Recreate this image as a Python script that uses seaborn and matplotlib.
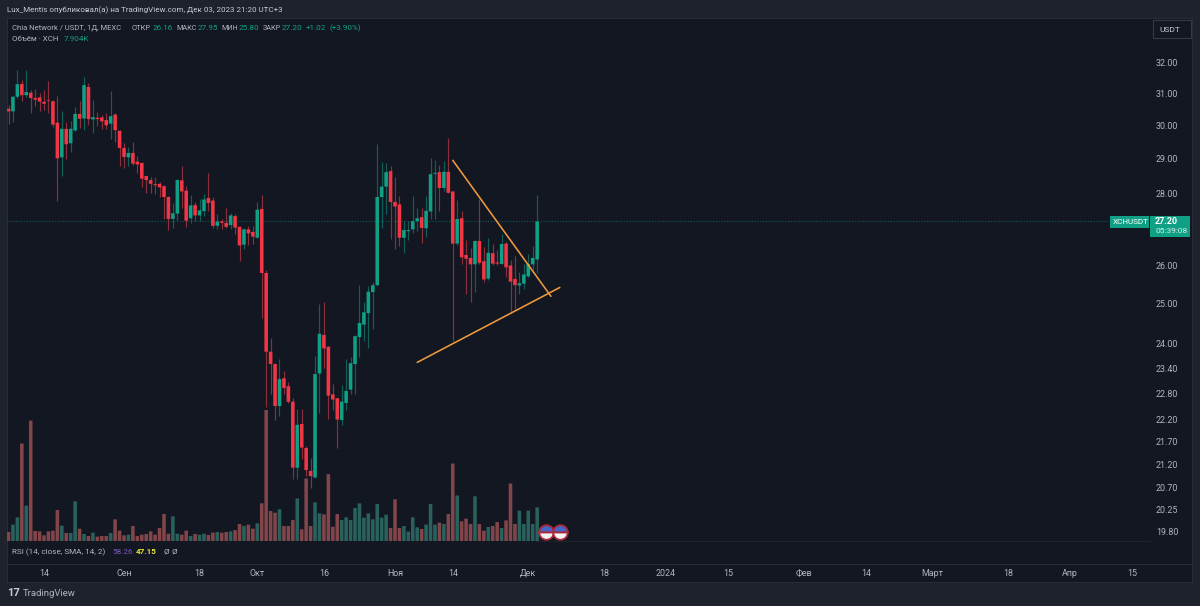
import numpy as np
import pandas as pd
import matplotlib
matplotlib.use("Agg")
import matplotlib.pyplot as plt
import seaborn as sns

W, H = 1200, 606

# daily XCH/USDT candles
open_px = [30.53, 30.45, 30.91, 31.32, 30.96, 31.04, 30.87, 30.89, 30.75, 30.81,
           30.77, 30.10, 29.05, 29.91, 29.47, 29.86, 30.37, 30.23, 31.22, 30.20,
           30.25, 30.26, 30.18, 30.07, 30.35, 29.85, 29.33, 29.05, 29.18, 28.92,
           28.88, 28.50, 28.38, 28.26, 28.27, 28.20, 27.89, 27.27, 27.42, 28.37,
           28.07, 27.29, 27.66, 27.37, 27.49, 27.86, 27.79, 27.08, 27.20, 27.16,
           27.10, 27.35, 27.05, 26.56, 26.98, 26.91, 26.75, 27.55, 25.80, 23.80,
           23.50, 22.51, 23.16, 22.97, 22.61, 21.13, 22.10, 21.56, 21.06, 20.92,
           23.27, 24.21, 23.92, 22.78, 22.69, 22.19, 22.58, 22.89, 23.50, 24.16,
           24.47, 24.76, 25.30, 25.48, 27.89, 28.19, 28.64, 27.75, 27.68, 26.75,
           26.93, 26.98, 27.21, 27.32, 27.01, 27.48, 28.56, 28.61, 28.15, 28.62,
           28.05, 26.59, 27.29, 26.28, 26.20, 26.03, 26.66, 26.11, 25.65, 26.33,
           26.08, 26.04, 26.59, 26.00, 25.64, 25.47, 25.52, 25.71, 26.03, 26.16]
high_px = [30.66, 30.93, 31.77, 31.45, 31.77, 31.13, 31.15, 31.03, 31.11, 31.40,
           30.81, 30.93, 30.45, 30.11, 30.14, 30.60, 30.79, 31.55, 31.34, 30.81,
           30.42, 30.34, 30.40, 31.08, 30.40, 29.88, 29.48, 29.36, 29.50, 29.10,
           28.90, 28.50, 28.48, 28.48, 28.32, 28.23, 27.92, 27.72, 28.40, 28.79,
           28.21, 27.94, 27.74, 27.83, 27.97, 28.59, 27.90, 27.40, 27.27, 27.59,
           27.43, 27.40, 27.08, 27.01, 27.08, 27.06, 27.75, 27.94, 25.88, 24.14,
           23.52, 23.62, 23.34, 23.06, 22.70, 22.45, 22.43, 21.61, 21.34, 23.70,
           24.99, 25.04, 23.94, 23.02, 22.70, 22.99, 23.62, 23.66, 24.21, 25.48,
           25.04, 25.47, 25.57, 29.46, 28.91, 28.88, 28.80, 28.48, 27.92, 27.20,
           27.22, 27.92, 27.59, 27.59, 27.92, 29.03, 28.98, 28.83, 28.93, 29.63,
           28.05, 27.81, 27.50, 26.70, 26.47, 26.68, 27.83, 26.50, 26.74, 26.59,
           26.41, 26.85, 26.63, 26.14, 26.25, 25.83, 26.03, 26.32, 26.52, 27.95]
low_px = [30.07, 30.11, 30.86, 30.79, 30.89, 30.40, 30.62, 30.45, 30.50, 30.41,
          29.98, 27.78, 28.50, 29.00, 29.21, 29.83, 29.93, 29.86, 30.04, 29.78,
          30.01, 29.90, 29.91, 29.60, 29.50, 28.79, 28.74, 28.79, 28.83, 28.59,
          28.19, 28.01, 28.00, 27.97, 27.88, 27.27, 26.96, 27.03, 27.20, 27.59,
          27.05, 27.15, 27.20, 27.20, 27.36, 27.50, 27.03, 26.99, 26.99, 27.03,
          26.99, 26.85, 26.12, 26.43, 26.54, 26.59, 26.74, 24.63, 22.49, 22.80,
          22.19, 22.28, 22.80, 22.57, 20.88, 20.88, 21.31, 20.95, 20.70, 20.91,
          22.35, 23.40, 22.22, 22.41, 21.56, 22.07, 22.41, 22.80, 22.80, 23.66,
          24.07, 23.88, 24.37, 25.47, 27.01, 27.40, 26.72, 26.45, 26.52, 26.34,
          26.70, 26.88, 26.94, 26.60, 26.76, 27.27, 27.27, 27.50, 28.06, 28.00,
          24.06, 26.56, 26.05, 25.24, 25.05, 25.31, 26.05, 25.57, 25.62, 26.00,
          26.00, 26.03, 25.70, 24.78, 24.87, 25.25, 25.38, 25.70, 25.83, 25.80]
close_px = [30.45, 30.91, 31.31, 30.96, 31.06, 30.87, 30.82, 30.76, 30.69, 30.79,
            30.04, 29.02, 29.91, 29.44, 29.91, 30.37, 30.22, 31.28, 30.21, 30.27,
            30.21, 30.14, 30.02, 30.30, 29.87, 29.33, 29.06, 29.18, 28.86, 28.84,
            28.42, 28.38, 28.27, 28.23, 28.17, 27.89, 27.27, 27.43, 28.38, 28.05,
            27.22, 27.65, 27.37, 27.51, 27.82, 27.72, 27.08, 27.20, 27.16, 27.05,
            27.37, 27.03, 26.54, 26.98, 26.87, 26.78, 27.53, 25.80, 23.80, 23.50,
            22.51, 23.14, 22.93, 22.61, 21.13, 22.08, 21.57, 21.08, 20.95, 23.26,
            24.24, 23.88, 22.75, 22.66, 22.20, 22.61, 22.86, 23.52, 24.18, 24.51,
            24.78, 25.31, 25.48, 27.89, 28.19, 28.61, 27.75, 27.62, 26.75, 26.96,
            26.96, 27.21, 27.29, 27.02, 27.50, 28.55, 28.59, 28.15, 28.62, 28.01,
            26.59, 27.27, 26.22, 26.18, 26.03, 26.66, 26.07, 25.63, 26.34, 26.05,
            26.05, 26.58, 25.95, 25.57, 25.48, 25.53, 25.76, 26.04, 26.20, 27.20]
volume_k = [2.11, 3.84, 5.56, 22.9, 8.3, 28.3, 2.35, 2.27, 1.33, 2.27,
            2.43, 7.28, 3.6, 1.88, 1.88, 9.32, 2.9, 1.64, 1.17, 1.96,
            1.02, 1.17, 1.17, 1.88, 5.09, 2.43, 1.33, 1.49, 3.52, 1.17,
            1.49, 1.64, 2.27, 1.49, 3.05, 6.34, 1.72, 5.79, 1.72, 1.49,
            2.43, 1.17, 1.64, 1.49, 1.72, 1.41, 1.96, 2.11, 1.96, 2.11,
            2.27, 2.58, 3.99, 3.52, 3.84, 2.9, 4.15, 8.85, 30.8, 7.05,
            6.66, 7.44, 3.52, 3.52, 4.93, 10.0, 2.74, 14.7, 3.52, 9.08,
            6.5, 6.26, 15.7, 3.37, 6.34, 4.93, 5.56, 4.93, 7.75, 8.85,
            5.48, 6.5, 5.09, 8.69, 5.48, 6.19, 3.05, 9.79, 3.05, 3.52,
            2.19, 5.56, 3.21, 2.82, 3.84, 8.69, 3.84, 4.31, 3.99, 6.34,
            18.2, 10.7, 4.62, 5.25, 3.99, 10.5, 3.99, 2.43, 3.29, 3.52,
            4.46, 3.05, 4.85, 13.5, 3.99, 7.13, 3.99, 7.13, 3.99, 7.904]

price_ticks = [19.80, 20.25, 20.70, 21.20, 21.70, 22.20, 22.80, 23.40, 24.00,
               25.00, 26.00, 27.20, 28.00, 29.00, 30.00, 31.00, 32.00]
time_dates = ["2023-08-14", "2023-09-01", "2023-09-18", "2023-10-01", "2023-10-16",
              "2023-11-01", "2023-11-14", "2023-12-01", "2023-12-18", "2024-01-01",
              "2024-01-15", "2024-02-01", "2024-02-15", "2024-03-01", "2024-03-18",
              "2024-04-01", "2024-04-15"]
time_labels = ["14", "Сен", "18", "Окт", "16", "Ноя", "14", "Дек", "18", "2024",
               "15", "Фев", "14", "Март", "18", "Апр", "15"]

# the two hand drawn trend lines (day number, price)
falling_days = [100, 122.1]
falling_price = [28.96, 25.19]
rising_days = [92, 124.1]
rising_price = [23.54, 25.42]
event_days = [121, 124.1]
event_volume = [2.2, 2.2]

BG = "#131722"
FRAME = "#1e222d"
GREEN = "#10a085"
RED = "#f23645"
TEXT = "#b2b5be"

sns.set_theme(style="dark")
plt.rcParams["font.family"] = ["Roboto", "DejaVu Sans"]

days = np.arange(len(open_px))
dates = pd.date_range("2023-08-06", periods=len(open_px))
df = pd.DataFrame({"day": days, "open": open_px, "high": high_px, "low": low_px,
                   "close": close_px, "volume": volume_k})
df["side"] = np.where(df["close"] >= df["open"], "up", "down")


def fx(x):
    return x / W


def fy(y):
    return 1 - y / H


def pane(x0, y0, x1, y1):
    return [fx(x0), fy(y1), (x1 - x0) / W, (y1 - y0) / H]


def label(x, y, s, color=TEXT, size=6.4, **kw):
    fig.text(fx(x), fy(y), s, color=color, fontsize=size, va="center", **kw)


fig = plt.figure(figsize=(W / 100, H / 100), dpi=100, facecolor=FRAME)
fig.add_artist(plt.Rectangle((fx(7), fy(582)), (1192 - 7) / W, (582 - 18) / H,
                             transform=fig.transFigure, facecolor=BG,
                             edgecolor="#2a2e39", linewidth=0.7, zorder=-1))

xlim = (-0.338, 266.4)

# volume sits behind the candles on its own scale
ax_vol = fig.add_axes(pane(7, 18, 1192, 541), facecolor="none")
sns.barplot(data=df, x="day", y="volume", hue="side", native_scale=True, dodge=False,
            palette={"up": "#1f6b64", "down": "#8b3b42"}, width=0.8, errorbar=None,
            legend=False, linewidth=0, ax=ax_vol)
for bar in ax_vol.patches:
    bar.set_snap(False)
ax_vol.set_xlim(xlim)
ax_vol.set_ylim(0, 122.9)
ax_vol.axis("off")
ax_vol.plot(event_days, event_volume, "o", ms=10.5, fillstyle="top", mfc="#3f66c8",
            mfcalt="#f2f2f2", mec="#a8283a", mew=1.3, linestyle="none", clip_on=False)

ax = fig.add_axes(pane(7, 18, 1192, 541), facecolor="none")
ax.set_yscale("log")
up = df["side"] == "up"
colors = np.where(up, GREEN, RED)
wicks = np.where(up, "#115f59", "#8c2f3d")
ax.axhline(27.20, color="#0e5a52", lw=0.8, ls=(0, (1, 1.5)), xmax=1103 / 1185)
ax.vlines(df["day"], df["low"], df["high"], colors=wicks, linewidth=0.85, zorder=2)
bodies = ax.bar(df["day"], (df["close"] - df["open"]).abs(),
                bottom=df[["open", "close"]].min(axis=1), width=0.8, color=colors,
                linewidth=0, zorder=3)
for bar in bodies:
    bar.set_snap(False)
ax.plot(falling_days, falling_price, color="#ef9a3c", lw=1.15, zorder=4)
ax.plot(rising_days, rising_price, color="#ef9a3c", lw=1.15, zorder=4)

ax.set_xlim(xlim)
ax.set_ylim(19.6, 33.51)
ax.set_xticks([])
ax.set_yticks(price_ticks)
ax.set_yticks([], minor=True)
ax.set_yticklabels([f"{p:.2f}" for p in price_ticks])
ax.tick_params(axis="y", which="both", length=0, left=False, right=False, labelleft=False,
               labelright=True, pad=-26, labelsize=6.4, labelcolor=TEXT)
ax.grid(False)
for spine in ax.spines.values():
    spine.set_visible(False)
ax.yaxis.get_ticklabels()[price_ticks.index(27.20)].set_visible(False)

# time scale below the RSI strip
ax_time = fig.add_axes(pane(7, 564, 1192, 582), facecolor="none")
tick_days = [(pd.Timestamp(d) - dates[0]).days for d in time_dates]
ax_time.set_xlim(xlim)
ax_time.set_ylim(0, 1)
ax_time.set_xticks(tick_days)
ax_time.set_xticklabels(time_labels)
ax_time.set_yticks([])
ax_time.tick_params(axis="x", length=0, direction="in", pad=-9.5, labelsize=6.4, labelcolor=TEXT)
for spine in ax_time.spines.values():
    spine.set_visible(False)
ax_time.grid(False)

fig.add_artist(plt.Line2D([fx(7), fx(1192)], [fy(564), fy(564)], color="#2a2e39", lw=0.7))
fig.add_artist(plt.Line2D([fx(535), fx(1150)], [fy(541), fy(541)], color="#20242f", lw=0.7))

# header
label(7, 10, "Lux_Mentis опубликовал(а) на TradingView.com, Дек 03, 2023 21:20 UTC+3", "#c8cad0", 5.8)
label(12, 28, "Chia Network / USDT, 1Д, MEXC", TEXT, 5.5)
for x, s, c, fs in [(132, "ОТКР", TEXT, 5.4), (152.5, "26.16", GREEN, 5.9), (176, "МАКС", TEXT, 5.2),
                    (197.5, "27.95", GREEN, 5.9), (221, "МИН", TEXT, 5.2), (238.5, "25.80", GREEN, 5.9),
                    (263, "ЗАКР", TEXT, 5.2), (281.5, "27.20", GREEN, 5.9), (306, "+1.02", GREEN, 5.9),
                    (329, "(+3.90%)", GREEN, 5.9)]:
    label(x, 28, s, c, fs)
label(12, 39, "Объём · XCH", TEXT, 5.7)
label(64, 39, "7.904K", GREEN, 5.9)

# RSI legend
label(12, 552, "RSI (14, close, SMA, 14, 2)", TEXT, 5.9)
label(112, 552, "58.26", "#7e57c2", 5.9)
label(136, 552, "47.15", "#e8e337", 5.9, fontweight="bold")
label(163, 552, "Ø", TEXT, 5.9)
label(172, 552, "Ø", TEXT, 5.9)

# price scale widgets
fig.add_artist(plt.Rectangle((fx(1153), fy(38)), 38 / W, 18 / H, transform=fig.transFigure,
                             facecolor=BG, edgecolor="#363a45", linewidth=0.8))
label(1159, 30, "USDT", "#c8cad0", 6.0)
fig.add_artist(plt.Rectangle((fx(1110), fy(228)), 39 / W, 12 / H, transform=fig.transFigure,
                             facecolor=GREEN, edgecolor="none"))
label(1113, 222, "XCHUSDT", "white", 5.9)
fig.add_artist(plt.Rectangle((fx(1150), fy(237)), 40 / W, 21 / H, transform=fig.transFigure,
                             facecolor=GREEN, edgecolor="none"))
label(1155, 222, "27.20", "white", 6.4, fontweight="bold")
label(1155, 231, "05:39:08", "#d5efe9", 6.0)

# logo strip
label(7, 593, "17", "#c8cad0", 8, fontweight="bold")
label(23, 593, "TradingView", "#b2b5be", 6.8)

fig.savefig("out.png", dpi=100, facecolor=FRAME)
